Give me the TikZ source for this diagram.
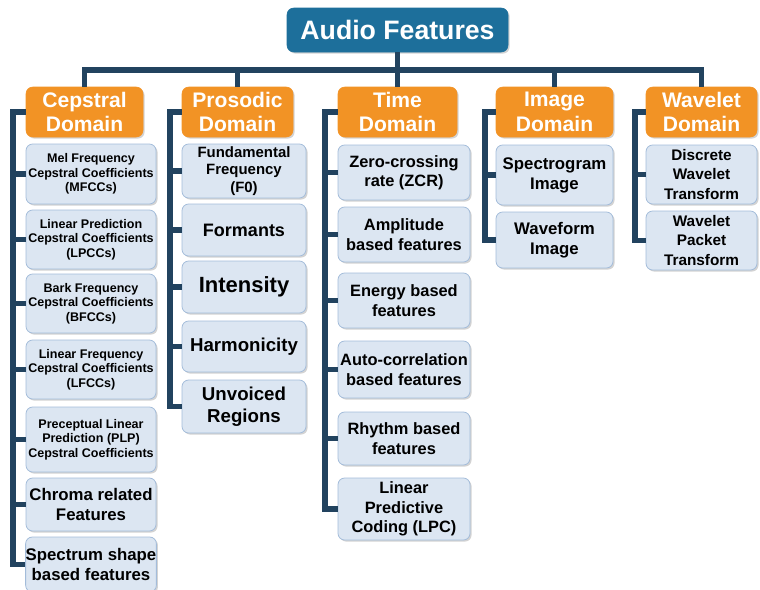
\documentclass[tikz,border=0pt]{standalone}
\usepackage{fontspec}
\setmainfont{Liberation Sans}
\usetikzlibrary{shadows}
\definecolor{topblue}{HTML}{1D6F9B}
\definecolor{domorange}{HTML}{F29325}
\definecolor{childfill}{HTML}{DCE6F2}
\definecolor{childdraw}{HTML}{A3BCDA}
\definecolor{linecol}{HTML}{22435F}
\newcommand\bx[7]{\node[#6, minimum width={(#4-#2)*0.75pt}, minimum height={(#5-#3)*0.75pt}] (#1) at ({(#2+#4)/2},{(#3+#5)/2}) {#7};}
\tikzset{
  shad/.style={drop shadow={shadow xshift=1.2pt, shadow yshift=-1.2pt, opacity=0.35, fill=gray}},
  topbox/.style={shad, fill=topblue, draw=topblue, rounded corners=5pt, text=white, font=\bfseries\fontsize{20pt}{22pt}\selectfont, inner sep=0pt, align=center},
  dombox/.style={shad, fill=domorange, draw=domorange, rounded corners=5pt, text=white, font=\bfseries\fontsize{15.8pt}{18.5pt}\selectfont, inner sep=0pt, align=center},
  childbox/.style={shad, fill=childfill, draw=childdraw, line width=0.6pt, rounded corners=5pt, text=black, inner sep=0pt, align=center},
  csmall/.style={childbox, font=\bfseries\fontsize{9.4pt}{10.9pt}\selectfont},
  cmid/.style={childbox, font=\bfseries\fontsize{12.3pt}{14.6pt}\selectfont},
  clarge/.style={childbox, font=\bfseries\fontsize{12.6pt}{15pt}\selectfont},
  conn/.style={draw=linecol, line width=3.8pt, line join=miter}
}
\begin{document}
\begin{tikzpicture}[x=0.75pt,y=-0.75pt]
\useasboundingbox (0,0) rectangle (760,589);
% top
\bx{top}{287}{8}{508}{52}{topbox}{Audio Features}
% domains
\bx{cep}{26}{87}{143}{137}{dombox}{Cepstral\\Domain}
\bx{pro}{182}{87}{293}{137}{dombox}{Prosodic\\Domain}
\bx{tim}{338}{87}{457}{137}{dombox}{Time\\Domain}
\bx{img}{496}{87}{613}{137}{dombox}{Image\\Domain}
\bx{wav}{646}{87}{757}{137}{dombox}{Wavelet\\Domain}
% cepstral children
\bx{c1}{26}{144}{156}{204}{csmall}{Mel Frequency\\Cepstral Coefficients\\(MFCCs)}
\bx{c2}{26}{210}{156}{269}{csmall}{Linear Prediction\\Cepstral Coefficients\\(LPCCs)}
\bx{c3}{26}{274}{156}{333}{csmall}{Bark Frequency\\Cepstral Coefficients\\(BFCCs)}
\bx{c4}{26}{340}{156}{399}{csmall}{Linear Frequency\\Cepstral Coefficients\\(LFCCs)}
\bx{c5}{26}{407}{156}{472}{csmall}{Preceptual Linear\\Prediction (PLP)\\Cepstral Coefficients}
\bx{c6}{26}{478}{156}{531}{clarge}{Chroma related\\Features}
\bx{c7}{26}{537}{156}{592}{clarge}{Spectrum shape\\based features}
% prosodic children
\bx{p1}{182}{144}{306}{198}{childbox, font=\bfseries\fontsize{11.2pt}{13pt}\selectfont}{Fundamental\\Frequency\\(F0)}
\bx{p2}{182}{204}{306}{256}{childbox, font=\bfseries\fontsize{13.5pt}{16pt}\selectfont}{Formants}
\bx{p3}{182}{261}{306}{313}{childbox, font=\bfseries\fontsize{16.5pt}{19pt}\selectfont}{Intensity}
\bx{p4}{182}{321}{306}{372}{childbox, font=\bfseries\fontsize{14pt}{16pt}\selectfont}{Harmonicity}
\bx{p5}{182}{380}{306}{433}{childbox, font=\bfseries\fontsize{14pt}{16.5pt}\selectfont}{Unvoiced\\Regions}
% time children
\bx{t1}{338}{145}{470}{200}{cmid}{Zero-crossing\\rate (ZCR)}
\bx{t2}{338}{207}{470}{262}{cmid}{Amplitude\\based features}
\bx{t3}{338}{273}{470}{328}{cmid}{Energy based\\features}
\bx{t4}{338}{341}{470}{398}{cmid}{Auto-correlation\\based features}
\bx{t5}{338}{412}{470}{465}{cmid}{Rhythm based\\features}
\bx{t6}{338}{478}{470}{540}{cmid}{Linear\\Predictive\\Coding (LPC)}
% image children
\bx{i1}{496}{145}{613}{205}{clarge}{Spectrogram\\Image}
\bx{i2}{496}{212}{613}{268}{clarge}{Waveform\\Image}
% wavelet children
\bx{w1}{646}{145}{757}{204}{childbox, font=\bfseries\fontsize{11.5pt}{14.5pt}\selectfont}{Discrete\\Wavelet\\Transform}
\bx{w2}{646}{211}{757}{270}{childbox, font=\bfseries\fontsize{11.5pt}{14.5pt}\selectfont}{Wavelet\\Packet\\Transform}
% connector helper coordinates
\coordinate (bus) at (0,70);
\coordinate (cx) at (13,0);
\coordinate (px) at (170,0);
\coordinate (tx) at (325,0);
\coordinate (ix) at (485,0);
\coordinate (wx) at (635,0);
\draw[conn] (top.south) -- (top.south |- bus);
\draw[conn] (cep.north) -- (cep.north |- bus) -- (wav.north |- bus) -- (wav.north);
\draw[conn] (pro.north) -- (pro.north |- bus);
\draw[conn] (tim.north) -- (tim.north |- bus);
\draw[conn] (img.north) -- (img.north |- bus);
% spines
\draw[conn] (cep.west) -- (cx |- cep.west) -- (cx |- c7.west) -- (c7.west);
\foreach \n in {c1,c2,c3,c4,c5,c6} \draw[conn] (cx |- \n.west) -- (\n.west);
\draw[conn] (pro.west) -- (px |- pro.west) -- (px |- p5.west) -- (p5.west);
\foreach \n in {p1,p2,p3,p4} \draw[conn] (px |- \n.west) -- (\n.west);
\draw[conn] (tim.west) -- (tx |- tim.west) -- (tx |- t6.west) -- (t6.west);
\foreach \n in {t1,t2,t3,t4,t5} \draw[conn] (tx |- \n.west) -- (\n.west);
\draw[conn] (img.west) -- (ix |- img.west) -- (ix |- i2.west) -- (i2.west);
\draw[conn] (ix |- i1.west) -- (i1.west);
\draw[conn] (wav.west) -- (wx |- wav.west) -- (wx |- w2.west) -- (w2.west);
\draw[conn] (wx |- w1.west) -- (w1.west);
\end{tikzpicture}
\end{document}
